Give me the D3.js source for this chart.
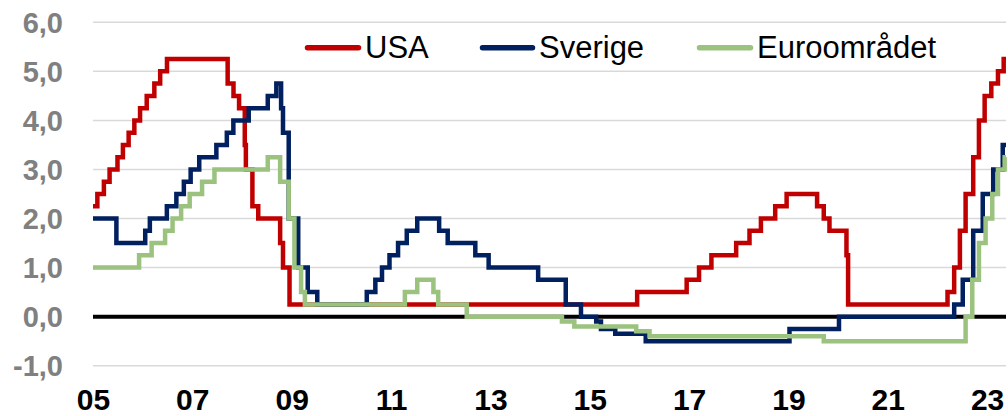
<!DOCTYPE html>
<html>
<head>
<meta charset="utf-8">
<script src="https://cdn.jsdelivr.net/npm/d3@7"></script>
<style>
  html, body { margin: 0; padding: 0; background: #fff; }
  svg { display: block; font-family: "Liberation Sans", Arial, sans-serif; }
</style>
</head>
<body>
<svg id="chart" width="1008" height="416"></svg>
<script>
// ---- Data (policy rates, change dates and new levels) ----
const seriesNames = ["USA", "Sverige", "Euroområdet"];
const startDate = "2005-01-01";
const endDate = "2023-05-20";

const usaSteps = [
  ["2005-01-01", 2.25], ["2005-02-02", 2.5], ["2005-03-22", 2.75], ["2005-05-03", 3.0],
  ["2005-06-30", 3.25], ["2005-08-09", 3.5], ["2005-09-20", 3.75], ["2005-11-01", 4.0],
  ["2005-12-13", 4.25], ["2006-01-31", 4.5], ["2006-03-28", 4.75], ["2006-05-10", 5.0],
  ["2006-06-29", 5.25], ["2007-09-18", 4.75], ["2007-10-31", 4.5], ["2007-12-11", 4.25],
  ["2008-01-22", 3.5], ["2008-01-30", 3.0], ["2008-03-18", 2.25], ["2008-04-30", 2.0],
  ["2008-10-08", 1.5], ["2008-10-29", 1.0], ["2008-12-16", 0.25], ["2015-12-16", 0.5],
  ["2016-12-14", 0.75], ["2017-03-15", 1.0], ["2017-06-14", 1.25], ["2017-12-13", 1.5],
  ["2018-03-21", 1.75], ["2018-06-13", 2.0], ["2018-09-26", 2.25], ["2018-12-19", 2.5],
  ["2019-07-31", 2.25], ["2019-09-18", 2.0], ["2019-10-30", 1.75], ["2020-03-03", 1.25],
  ["2020-03-15", 0.25], ["2022-03-16", 0.5], ["2022-05-04", 1.0], ["2022-06-15", 1.75],
  ["2022-07-27", 2.5], ["2022-09-21", 3.25], ["2022-11-02", 4.0], ["2022-12-14", 4.5],
  ["2023-02-01", 4.75], ["2023-03-22", 5.0], ["2023-05-03", 5.25]
];

const sverigeSteps = [
  ["2005-01-01", 2.0], ["2005-06-22", 1.5], ["2006-01-20", 1.75], ["2006-02-23", 2.0],
  ["2006-06-28", 2.25], ["2006-09-06", 2.5], ["2006-10-31", 2.75], ["2006-12-20", 3.0],
  ["2007-02-21", 3.25], ["2007-06-27", 3.5], ["2007-09-12", 3.75], ["2007-10-30", 4.0],
  ["2008-02-20", 4.25], ["2008-07-09", 4.5], ["2008-09-10", 4.75], ["2008-10-15", 4.25],
  ["2008-10-29", 3.75], ["2008-12-10", 2.0], ["2009-02-18", 1.0], ["2009-04-29", 0.5],
  ["2009-07-08", 0.25], ["2010-07-07", 0.5], ["2010-09-08", 0.75], ["2010-10-27", 1.0],
  ["2010-12-21", 1.25], ["2011-02-22", 1.5], ["2011-04-27", 1.75], ["2011-07-13", 2.0],
  ["2011-12-21", 1.75], ["2012-02-22", 1.5], ["2012-09-12", 1.25], ["2012-12-19", 1.0],
  ["2013-12-18", 0.75], ["2014-07-09", 0.25], ["2014-10-29", 0.0], ["2015-02-18", -0.1],
  ["2015-03-25", -0.25], ["2015-07-08", -0.35], ["2016-02-17", -0.5], ["2019-01-09", -0.25],
  ["2020-01-08", 0.0], ["2022-05-04", 0.25], ["2022-07-06", 0.75], ["2022-09-21", 1.75],
  ["2022-11-30", 2.5], ["2023-02-15", 3.0], ["2023-04-26", 3.5]
];

const euroSteps = [
  ["2005-01-01", 1.0], ["2005-12-06", 1.25], ["2006-03-08", 1.5], ["2006-06-15", 1.75],
  ["2006-08-09", 2.0], ["2006-10-11", 2.25], ["2006-12-13", 2.5], ["2007-03-14", 2.75],
  ["2007-06-13", 3.0], ["2008-07-09", 3.25], ["2008-10-08", 2.75], ["2008-12-10", 2.0],
  ["2009-01-21", 1.0], ["2009-03-11", 0.5], ["2009-04-08", 0.25], ["2011-04-13", 0.5],
  ["2011-07-13", 0.75], ["2011-11-09", 0.5], ["2011-12-14", 0.25], ["2012-07-11", 0.0],
  ["2014-06-11", -0.1], ["2014-09-10", -0.2], ["2015-12-09", -0.3], ["2016-03-16", -0.4],
  ["2019-09-18", -0.5], ["2022-07-27", 0.0], ["2022-09-14", 0.75], ["2022-11-02", 1.5],
  ["2022-12-21", 2.0], ["2023-02-08", 2.5], ["2023-03-22", 3.0], ["2023-05-10", 3.25]
];

const yTicks = [-1, 0, 1, 2, 3, 4, 5, 6];
const xTickYears = ["2005", "2007", "2009", "2011", "2013", "2015", "2017", "2019", "2021", "2023"];
const seriesColors = ["#C00000", "#002060", "#9BC27E"];

// ---- Chart ----
const svg = d3.select("#chart");
const parse = d3.timeParse("%Y-%m-%d");
const parseYear = d3.timeParse("%Y");

const x = d3.scaleTime().domain([parse(startDate), parse(endDate)]).range([93, 1006]);
const y = d3.scaleLinear().domain([-1, 6]).range([365.7, 22.3]);

// gridlines
svg.append("g").selectAll("line").data(yTicks.filter(v => v !== 0)).join("line")
  .attr("x1", x.range()[0]).attr("x2", x.range()[1])
  .attr("y1", d => y(d)).attr("y2", d => y(d))
  .attr("stroke", "#d9d9d9").attr("stroke-width", 1.5);

// y labels
const fmt = d => d3.format(".1f")(d).replace(".", ",").replace("\u2212", "-");
svg.append("g").selectAll("text").data(yTicks).join("text")
  .attr("x", 63).attr("y", d => y(d) + 10.3)
  .attr("text-anchor", "end")
  .attr("font-size", 29).attr("font-weight", "bold").attr("fill", "#808080")
  .text(fmt);

// x labels
const xAxis = d3.axisBottom(x)
  .tickValues(xTickYears.map(parseYear))
  .tickFormat(d3.timeFormat("%y"))
  .tickSize(0).tickPadding(0);
const gx = svg.append("g").call(xAxis);
gx.select(".domain").remove();
gx.selectAll("text")
  .attr("y", 410).attr("dy", null)
  .attr("font-size", 30).attr("font-weight", "bold").attr("fill", "#000")
  .attr("font-family", "\"Liberation Sans\", Arial, sans-serif");

// zero line
svg.append("line")
  .attr("x1", x.range()[0]).attr("x2", x.range()[1])
  .attr("y1", y(0)).attr("y2", y(0))
  .attr("stroke", "#000").attr("stroke-width", 4);

// series
const line = d3.line()
  .x(d => x(d[0])).y(d => y(d[1]))
  .curve(d3.curveStepAfter);

const allSteps = [usaSteps, sverigeSteps, euroSteps];
allSteps.forEach((steps, i) => {
  const pts = steps.map(s => [parse(s[0]), s[1]]);
  pts.push([parse(endDate), steps[steps.length - 1][1]]);
  svg.append("path")
    .datum(pts)
    .attr("fill", "none")
    .attr("stroke", seriesColors[i])
    .attr("stroke-width", 4.5)
    .attr("stroke-linejoin", "miter")
    .attr("d", line);
});

// legend
const legendItems = [
  { name: seriesNames[0], color: seriesColors[0], x1: 305, x2: 361, tx: 365 },
  { name: seriesNames[1], color: seriesColors[1], x1: 480, x2: 535, tx: 539 },
  { name: seriesNames[2], color: seriesColors[2], x1: 697, x2: 753, tx: 757 }
];
const lg = svg.append("g");
legendItems.forEach(it => {
  lg.append("line")
    .attr("x1", it.x1 + 2.5).attr("x2", it.x2 - 2.5)
    .attr("y1", 47.7).attr("y2", 47.7)
    .attr("stroke", it.color).attr("stroke-width", 5.5)
    .attr("stroke-linecap", "round");
  lg.append("text")
    .attr("x", it.tx).attr("y", 57.5)
    .attr("font-size", 31).attr("fill", "#000")
    .text(it.name);
});
</script>
</body>
</html>
